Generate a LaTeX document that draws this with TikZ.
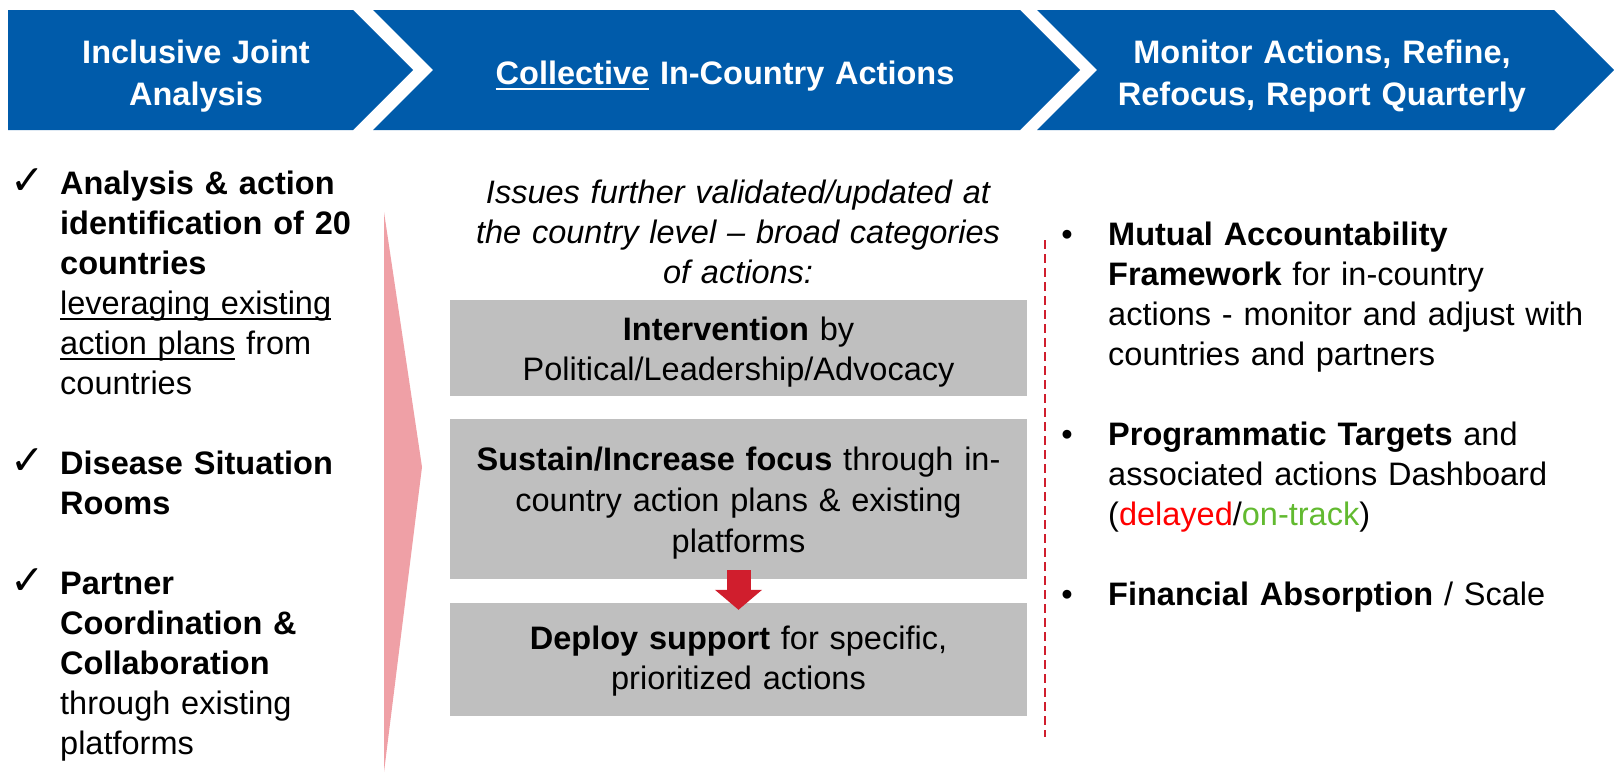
\documentclass[tikz,border=0pt]{standalone}
\usepackage{fontspec}
\setmainfont{Liberation Sans}
\newfontfamily\tickfont{DejaVu Sans}
\usetikzlibrary{positioning,arrows.meta}

\definecolor{hdblue}{RGB}{0,91,170}
\definecolor{boxgray}{RGB}{191,191,191}
\definecolor{flowpink}{RGB}{239,160,166}
\definecolor{arrowred}{RGB}{208,30,45}
\definecolor{lateRed}{RGB}{255,0,0}
\definecolor{trackgreen}{RGB}{98,186,48}

\newcommand{\hdfont}{\fontsize{32.5}{42}\selectfont\bfseries}
\newcommand{\txtfont}{\fontsize{32.5}{40}\selectfont}
% plain underline: rule under the word, in the current colour
\newcommand{\undl}[1]{\leavevmode\setbox0\hbox{#1}\rlap{\rule[-6pt]{\wd0}{1.6pt}}\box0\relax}

\begin{document}
\begin{tikzpicture}[x=1pt, y=-1pt,
    chev/.style={fill=hdblue},
    hd/.style={%
      font=\hdfont, text=white, align=center, text width=600pt,
      inner sep=0, anchor=base
    },
    txt/.style={%
      font=\txtfont, align=left, text width=490pt,
      inner sep=0, anchor=base west
    },
    issue/.style={%
      font=\txtfont\itshape, align=center, text width=580pt,
      inner sep=0, anchor=base
    },
    actbox/.style={rectangle, fill=boxgray, minimum width=577pt, inner sep=0},
    boxtext/.style={%
      font=\txtfont, align=center, text width=577pt,
      inner sep=0, anchor=base
    },
    chk/.style={font=\tickfont\fontsize{41}{41}\selectfont, inner sep=0, anchor=base},
    bulletmark/.style={font=\txtfont, inner sep=0, anchor=base},
    redarrow/.style={arrowred, line width=24pt, -{Triangle[length=20pt, width=46pt]}},
    divider/.style={arrowred, line width=1.8pt, dash pattern=on 9pt off 5pt}
]
    \useasboundingbox (0,0) rectangle (1614,772);

    % header band
    \fill[chev] (8,10) -- (353,10) -- (413,70) -- (353,130) -- (8,130) -- cycle;
    \fill[chev] (373,10) -- (1020,10) -- (1080,70) -- (1020,130) -- (373,130) -- (433,70) -- cycle;
    \fill[chev] (1037,10) -- (1554,10) -- (1614,70) -- (1554,130) -- (1037,130) -- (1097,70) -- cycle;

    \node[hd] (hjoint)   at (196,63)  {Inclusive Joint\\Analysis};
    \node[hd] (hcollect) at (725,84)  {\undl{Collective} In-Country Actions};
    \node[hd] (hmonitor) at (1322,63) {Monitor Actions, Refine,\\Refocus, Report Quarterly};

    % pink flow wedge
    \fill[flowpink] (384,212) -- (422,467) -- (384,772) -- cycle;

    % left column
    \node[txt] (lt1) at (60,194) {\textbf{Analysis \& action\\identification of 20\\countries}\\
      \undl{leveraging existing}\\\undl{action plans} from\\countries};
    \node[txt] (lt2) at (60,474) {\textbf{Disease Situation\\Rooms}};
    \node[txt] (lt3) at (60,594) {\textbf{Partner\\Coordination \&\\Collaboration}\\
      through existing\\platforms};

    \node[chk] (ck1) at ([xshift=-32pt]lt1.base west) {✓};
    \node[chk] (ck2) at ([xshift=-32pt]lt2.base west) {✓};
    \node[chk] (ck3) at ([xshift=-32pt]lt3.base west) {✓};

    % middle column
    \node[issue] (issues) at (738,203)
      {Issues further validated/updated at\\the country level -- broad categories\\of actions:};

    \node[actbox, minimum height=96pt]  (interv)  at (738.5,348)   {};
    \node[actbox, minimum height=160pt] (sustain) at (738.5,499)   {};
    \node[actbox, minimum height=113pt] (deploy)  at (738.5,659.5) {};

    \node[boxtext] (intervtxt) at ([yshift=-41pt]interv.north)
      {\textbf{Intervention} by\\Political/Leadership/Advocacy};
    \node[boxtext, font=\fontsize{32.5}{41}\selectfont] (sustaintxt) at ([yshift=-52pt]sustain.north)
      {\textbf{Sustain/Increase focus} through in-\\country action plans \& existing\\platforms};
    \node[boxtext] (deploytxt) at ([yshift=-47pt]deploy.north)
      {\textbf{Deploy support} for specific,\\prioritized actions};

    \draw[redarrow] ([yshift=9pt]sustain.south) -- ([yshift=-7pt]deploy.north);

    % divider
    \coordinate (dtop) at (1045,240);
    \coordinate (dbot) at (1045,737);
    \draw[divider] (dtop) -- (dbot);

    % right column
    \node[txt] (rt1) at (1108,245) {\textbf{Mutual Accountability\\Framework} for in-country\\
      actions - monitor and adjust with\\countries and partners};
    \node[txt] (rt2) at (1108,445) {\textbf{Programmatic Targets} and\\associated actions Dashboard\\
      (\textcolor{lateRed}{delayed}/\textcolor{trackgreen}{on-track})};
    \node[txt] (rt3) at (1108,605) {\textbf{Financial Absorption} / Scale};

    \node[bulletmark] (b1) at ([xshift=-41pt]rt1.base west) {•};
    \node[bulletmark] (b2) at ([xshift=-41pt]rt2.base west) {•};
    \node[bulletmark] (b3) at ([xshift=-41pt]rt3.base west) {•};

\end{tikzpicture}
\end{document}
